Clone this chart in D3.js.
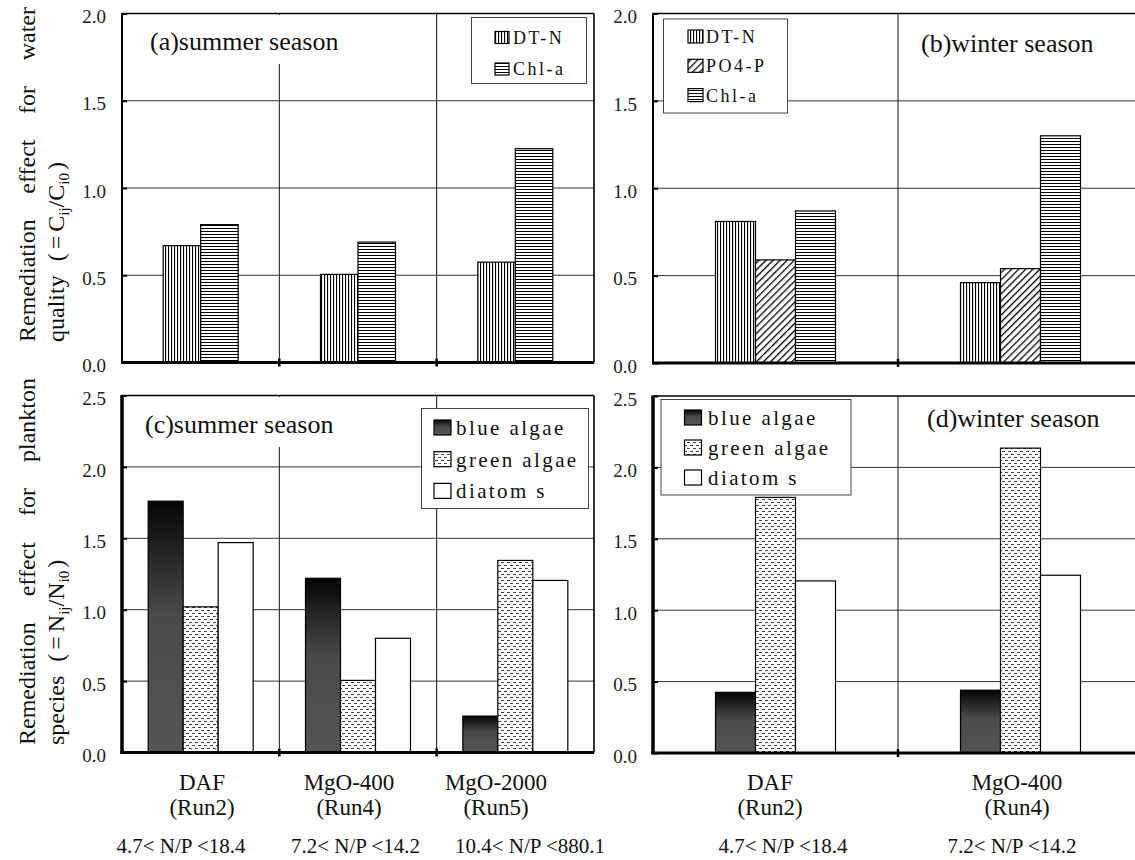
<!DOCTYPE html>
<html>
<head>
<meta charset="utf-8">
<title>Remediation effect</title>
<style>
  body { margin: 0; background: #fff; }
  svg { display: block; font-family: "Liberation Serif", "Times New Roman", serif; }
</style>
<script src="https://d3js.org/d3.v7.min.js"></script>
</head>
<body>
<svg id="chart" width="1135" height="860"></svg>
<script>
// categories and labels
var summerCats = ["DAF", "MgO-400", "MgO-2000"];
var summerRuns = ["(Run2)", "(Run4)", "(Run5)"];
var summerNP   = ["4.7< N/P <18.4", "7.2< N/P <14.2", "10.4< N/P <880.1"];
var winterCats = ["DAF", "MgO-400"];
var winterRuns = ["(Run2)", "(Run4)"];
var winterNP   = ["4.7< N/P <18.4", "7.2< N/P <14.2"];

// water quality  C_ij / C_i0
var summerDTN  = [0.67, 0.505, 0.575];
var summerChla = [0.79, 0.69, 1.225];
var winterDTN  = [0.81, 0.46];
var winterPO4P = [0.59, 0.54];
var winterChla = [0.87, 1.30];

// plankton species  N_ij / N_i0
var summerBlue    = [1.76, 1.22, 0.255];
var summerGreen   = [1.02, 0.505, 1.345];
var summerDiatoms = [1.47, 0.80, 1.205];
var winterBlue    = [0.425, 0.44];
var winterGreen   = [1.79, 2.135];
var winterDiatoms = [1.205, 1.245];

var waterTicks    = [0, 0.5, 1.0, 1.5, 2.0];
var planktonTicks = [0, 0.5, 1.0, 1.5, 2.0, 2.5];

var svg = d3.select("#chart");
svg.append("rect").attr("width", 1135).attr("height", 860).attr("fill", "#fff");

// fills
var defs = svg.append("defs");

var vl = defs.append("pattern").attr("id", "vlines").attr("patternUnits", "userSpaceOnUse")
    .attr("width", 3).attr("height", 3);
vl.append("rect").attr("width", 3).attr("height", 3).attr("fill", "#fff");
vl.append("rect").attr("x", 0).attr("width", 1.1).attr("height", 3).attr("fill", "#000");

var hl = defs.append("pattern").attr("id", "hlines").attr("patternUnits", "userSpaceOnUse")
    .attr("width", 3).attr("height", 3);
hl.append("rect").attr("width", 3).attr("height", 3).attr("fill", "#fff");
hl.append("rect").attr("y", 0).attr("width", 3).attr("height", 1).attr("fill", "#000");

var dg = defs.append("pattern").attr("id", "diag").attr("patternUnits", "userSpaceOnUse")
    .attr("width", 5).attr("height", 5).attr("patternTransform", "rotate(45)");
dg.append("rect").attr("width", 5).attr("height", 5).attr("fill", "#fff");
dg.append("rect").attr("width", 1.3).attr("height", 5).attr("fill", "#000");

var dt = defs.append("pattern").attr("id", "dashes").attr("patternUnits", "userSpaceOnUse")
    .attr("width", 6).attr("height", 6);
dt.append("rect").attr("width", 6).attr("height", 6).attr("fill", "#fff");
dt.append("rect").attr("x", 0).attr("y", 1).attr("width", 3).attr("height", 1).attr("fill", "#444");
dt.append("rect").attr("x", 3).attr("y", 4).attr("width", 3).attr("height", 1).attr("fill", "#444");

var gr = defs.append("linearGradient").attr("id", "blue").attr("x1", 0).attr("y1", 0).attr("x2", 0).attr("y2", 1);
gr.append("stop").attr("offset", "0").attr("stop-color", "#050505");
gr.append("stop").attr("offset", "0.45").attr("stop-color", "#4a4a4a");
gr.append("stop").attr("offset", "1").attr("stop-color", "#555");

function fillFor(id) {
  if (id === "white") return "#fff";
  return "url(#" + id + ")";
}

var panels = [
  { title: "(a)summer season", cats: summerCats, ticks: waterTicks, max: 2,
    series: [["DT-N", summerDTN, "vlines"], ["Chl-a", summerChla, "hlines"]],
    left: 122, step: 157.33, top: 13.5, bottom: 362.5, group: 75, axisW: 2,
    titleX: 150, titleY: 50,
    legend: { x: 471.5, y: 17.5, w: 115, h: 66, sx: 495, sw: 14, sh: 12, tx: 513, base: 43.5, pitch: 31.5, fs: 18, ls: 2.5 } },
  { title: "(b)winter season", cats: winterCats, ticks: waterTicks, max: 2,
    series: [["DT-N", winterDTN, "vlines"], ["PO4-P", winterPO4P, "diag"], ["Chl-a", winterChla, "hlines"]],
    left: 653, step: 245, top: 13.5, bottom: 363, group: 120, axisW: 2,
    titleX: 921, titleY: 52,
    legend: { x: 663.5, y: 19, w: 124, h: 94, sx: 688, sw: 15, sh: 13, tx: 706, base: 43, pitch: 29.3, fs: 18, ls: 2.5 } },
  { title: "(c)summer season", cats: summerCats, ticks: planktonTicks, max: 2.5,
    series: [["blue algae", summerBlue, "blue"], ["green algae", summerGreen, "dashes"], ["diatom s", summerDiatoms, "white"]],
    left: 122, step: 157.33, top: 395.5, bottom: 752.5, group: 105, axisW: 3.5,
    titleX: 145, titleY: 433,
    legend: { x: 421.5, y: 408.5, w: 167, h: 100, sx: 434, sw: 17, sh: 15, tx: 456, base: 435, pitch: 31.7, fs: 21, ls: 2.4 },
    runs: summerRuns, np: summerNP, labelRange: [202, 496], npRange: [181, 530] },
  { title: "(d)winter season", cats: winterCats, ticks: planktonTicks, max: 2.5,
    series: [["blue algae", winterBlue, "blue"], ["green algae", winterGreen, "dashes"], ["diatom s", winterDiatoms, "white"]],
    left: 653, step: 245, top: 396, bottom: 753, group: 120, axisW: 3.5,
    titleX: 927, titleY: 427,
    legend: { x: 661, y: 399.5, w: 190, h: 95.5, sx: 684.5, sw: 17, sh: 15, tx: 708, base: 425, pitch: 30, fs: 21, ls: 2.4 },
    runs: winterRuns, np: winterNP, labelRange: [770, 1017], npRange: [783, 1012] }
];

function drawPanel(p) {
  var g = svg.append("g");
  var x = d3.scaleBand().domain(p.cats).range([p.left, p.left + p.step * p.cats.length]);
  var right = x.range()[1];
  var y = d3.scaleLinear().domain([0, p.max]).range([p.bottom, p.top]);
  var keys = p.series.map(function(s) { return s[0]; });
  var xi = d3.scaleBand().domain(keys).range([0, p.group]);

  // grid
  g.selectAll("line.hgrid").data(p.ticks.filter(function(t) { return t > 0 && t < p.max; }))
    .join("line").attr("class", "hgrid")
    .attr("x1", p.left).attr("x2", right)
    .attr("y1", function(d) { return y(d); }).attr("y2", function(d) { return y(d); })
    .attr("stroke", "#333").attr("stroke-width", 1);
  g.selectAll("line.vgrid").data(p.cats.slice(1))
    .join("line").attr("class", "vgrid")
    .attr("x1", function(d) { return x(d); }).attr("x2", function(d) { return x(d); })
    .attr("y1", p.top).attr("y2", p.bottom)
    .attr("stroke", "#111").attr("stroke-width", 1);

  // frame top / right
  g.append("line").attr("x1", p.left).attr("x2", right).attr("y1", p.top).attr("y2", p.top)
    .attr("stroke", "#000").attr("stroke-width", 1.6);
  g.append("line").attr("x1", right).attr("x2", right).attr("y1", p.top).attr("y2", p.bottom)
    .attr("stroke", "#000").attr("stroke-width", 1.6);

  // bars
  var rows = [];
  p.series.forEach(function(s) {
    s[1].forEach(function(v, i) {
      rows.push({ cat: p.cats[i], key: s[0], value: v, fill: s[2] });
    });
  });
  g.selectAll("rect.bar").data(rows).join("rect").attr("class", "bar")
    .attr("x", function(d) { return x(d.cat) + (x.bandwidth() - p.group) / 2 + xi(d.key); })
    .attr("y", function(d) { return y(d.value); })
    .attr("width", xi.bandwidth())
    .attr("height", function(d) { return y(0) - y(d.value); })
    .attr("fill", function(d) { return fillFor(d.fill); })
    .attr("stroke", "#000").attr("stroke-width", 1.2);

  // title with white box
  var tt = g.append("text").attr("x", p.titleX).attr("y", p.titleY)
    .attr("font-size", 26).attr("fill", "#111").text(p.title);
  var bb = tt.node().getBBox();
  g.insert("rect", function() { return tt.node(); })
    .attr("x", bb.x - 4).attr("y", p.top + 1.5)
    .attr("width", bb.width + 8).attr("height", p.titleY + 14 - p.top - 1.5)
    .attr("fill", "#fff");

  // legend
  var L = p.legend;
  var lg = g.append("g");
  lg.append("rect").attr("x", L.x).attr("y", L.y).attr("width", L.w).attr("height", L.h)
    .attr("fill", "#fff").attr("stroke", "#444").attr("stroke-width", 1);
  var items = lg.selectAll("g.item").data(p.series).join("g").attr("class", "item");
  items.append("rect")
    .attr("x", L.sx).attr("y", function(d, i) { return L.base + i * L.pitch - L.sh; })
    .attr("width", L.sw).attr("height", L.sh)
    .attr("fill", function(d) { return fillFor(d[2]); })
    .attr("stroke", "#000").attr("stroke-width", 1.2);
  items.append("text")
    .attr("x", L.tx).attr("y", function(d, i) { return L.base + i * L.pitch; })
    .attr("font-size", L.fs).attr("letter-spacing", L.ls).attr("fill", "#111")
    .text(function(d) { return d[0]; });

  // y axis
  var yAxis = d3.axisLeft(y).tickValues(p.ticks).tickFormat(d3.format(".1f"))
    .tickSize(-5).tickPadding(16);
  var ax = g.append("g").attr("transform", "translate(" + p.left + ",0)").call(yAxis)
    .attr("font-family", null).attr("font-size", 19);
  ax.select(".domain").remove();
  ax.selectAll(".tick line").attr("stroke", "#000").attr("stroke-width", 2);
  ax.selectAll(".tick text").attr("fill", "#222").attr("dy", "0.48em");

  g.append("line").attr("x1", p.left).attr("x2", p.left).attr("y1", p.top - 0.5).attr("y2", p.bottom + 1)
    .attr("stroke", "#000").attr("stroke-width", p.axisW);
  g.append("line").attr("x1", p.left - p.axisW / 2).attr("x2", right).attr("y1", p.bottom).attr("y2", p.bottom)
    .attr("stroke", "#000").attr("stroke-width", 3);
  g.selectAll("line.xtick").data(p.cats.slice(1)).join("line").attr("class", "xtick")
    .attr("x1", function(d) { return x(d); }).attr("x2", function(d) { return x(d); })
    .attr("y1", p.bottom - 4).attr("y2", p.bottom + 4)
    .attr("stroke", "#000").attr("stroke-width", 2.5);

  // category labels under the lower panels
  if (p.runs) {
    var xl = d3.scalePoint().domain(p.cats).range(p.labelRange);
    var xn = d3.scalePoint().domain(p.cats).range(p.npRange);
    var lab = g.append("g").attr("text-anchor", "middle").attr("fill", "#111");
    lab.selectAll("text.cat").data(p.cats).join("text").attr("class", "cat")
      .attr("x", function(d) { return xl(d); }).attr("y", 790).attr("font-size", 23)
      .text(function(d) { return d; });
    lab.selectAll("text.run").data(p.runs).join("text").attr("class", "run")
      .attr("x", function(d, i) { return xl(p.cats[i]); }).attr("y", 815).attr("font-size", 23)
      .text(function(d) { return d; });
    lab.selectAll("text.np").data(p.np).join("text").attr("class", "np")
      .attr("x", function(d, i) { return xn(p.cats[i]); }).attr("y", 853).attr("font-size", 21)
      .text(function(d) { return d; });
  }
}

panels.forEach(drawPanel);

// rotated axis titles
function axisTitle(bottomY, line1, len1, word2, sym) {
  var t1 = svg.append("text").attr("transform", "translate(35," + bottomY + ") rotate(-90)")
    .attr("font-size", 24).attr("fill", "#111").text(line1);
  var w = t1.node().getComputedTextLength();
  t1.attr("word-spacing", (len1 - w) / 3);
  var t2 = svg.append("text").attr("transform", "translate(64," + bottomY + ") rotate(-90)")
    .attr("font-size", 24).attr("fill", "#111");
  t2.append("tspan").text(word2);
  t2.append("tspan").attr("dx", 14).text("(");
  t2.append("tspan").attr("dx", 4).text("=");
  t2.append("tspan").attr("dx", 4).text(sym);
  t2.append("tspan").attr("dy", 5).attr("font-size", 15).text("ij");
  t2.append("tspan").attr("dy", -5).text("/" + sym);
  t2.append("tspan").attr("dy", 5).attr("font-size", 15).text("i0");
  t2.append("tspan").attr("dy", -5).attr("dx", 3).text(")");
}
axisTitle(342, "Remediation effect for water", 335, "quality", "C");
axisTitle(745, "Remediation effect for plankton", 367, "species", "N");
</script>
</body>
</html>
